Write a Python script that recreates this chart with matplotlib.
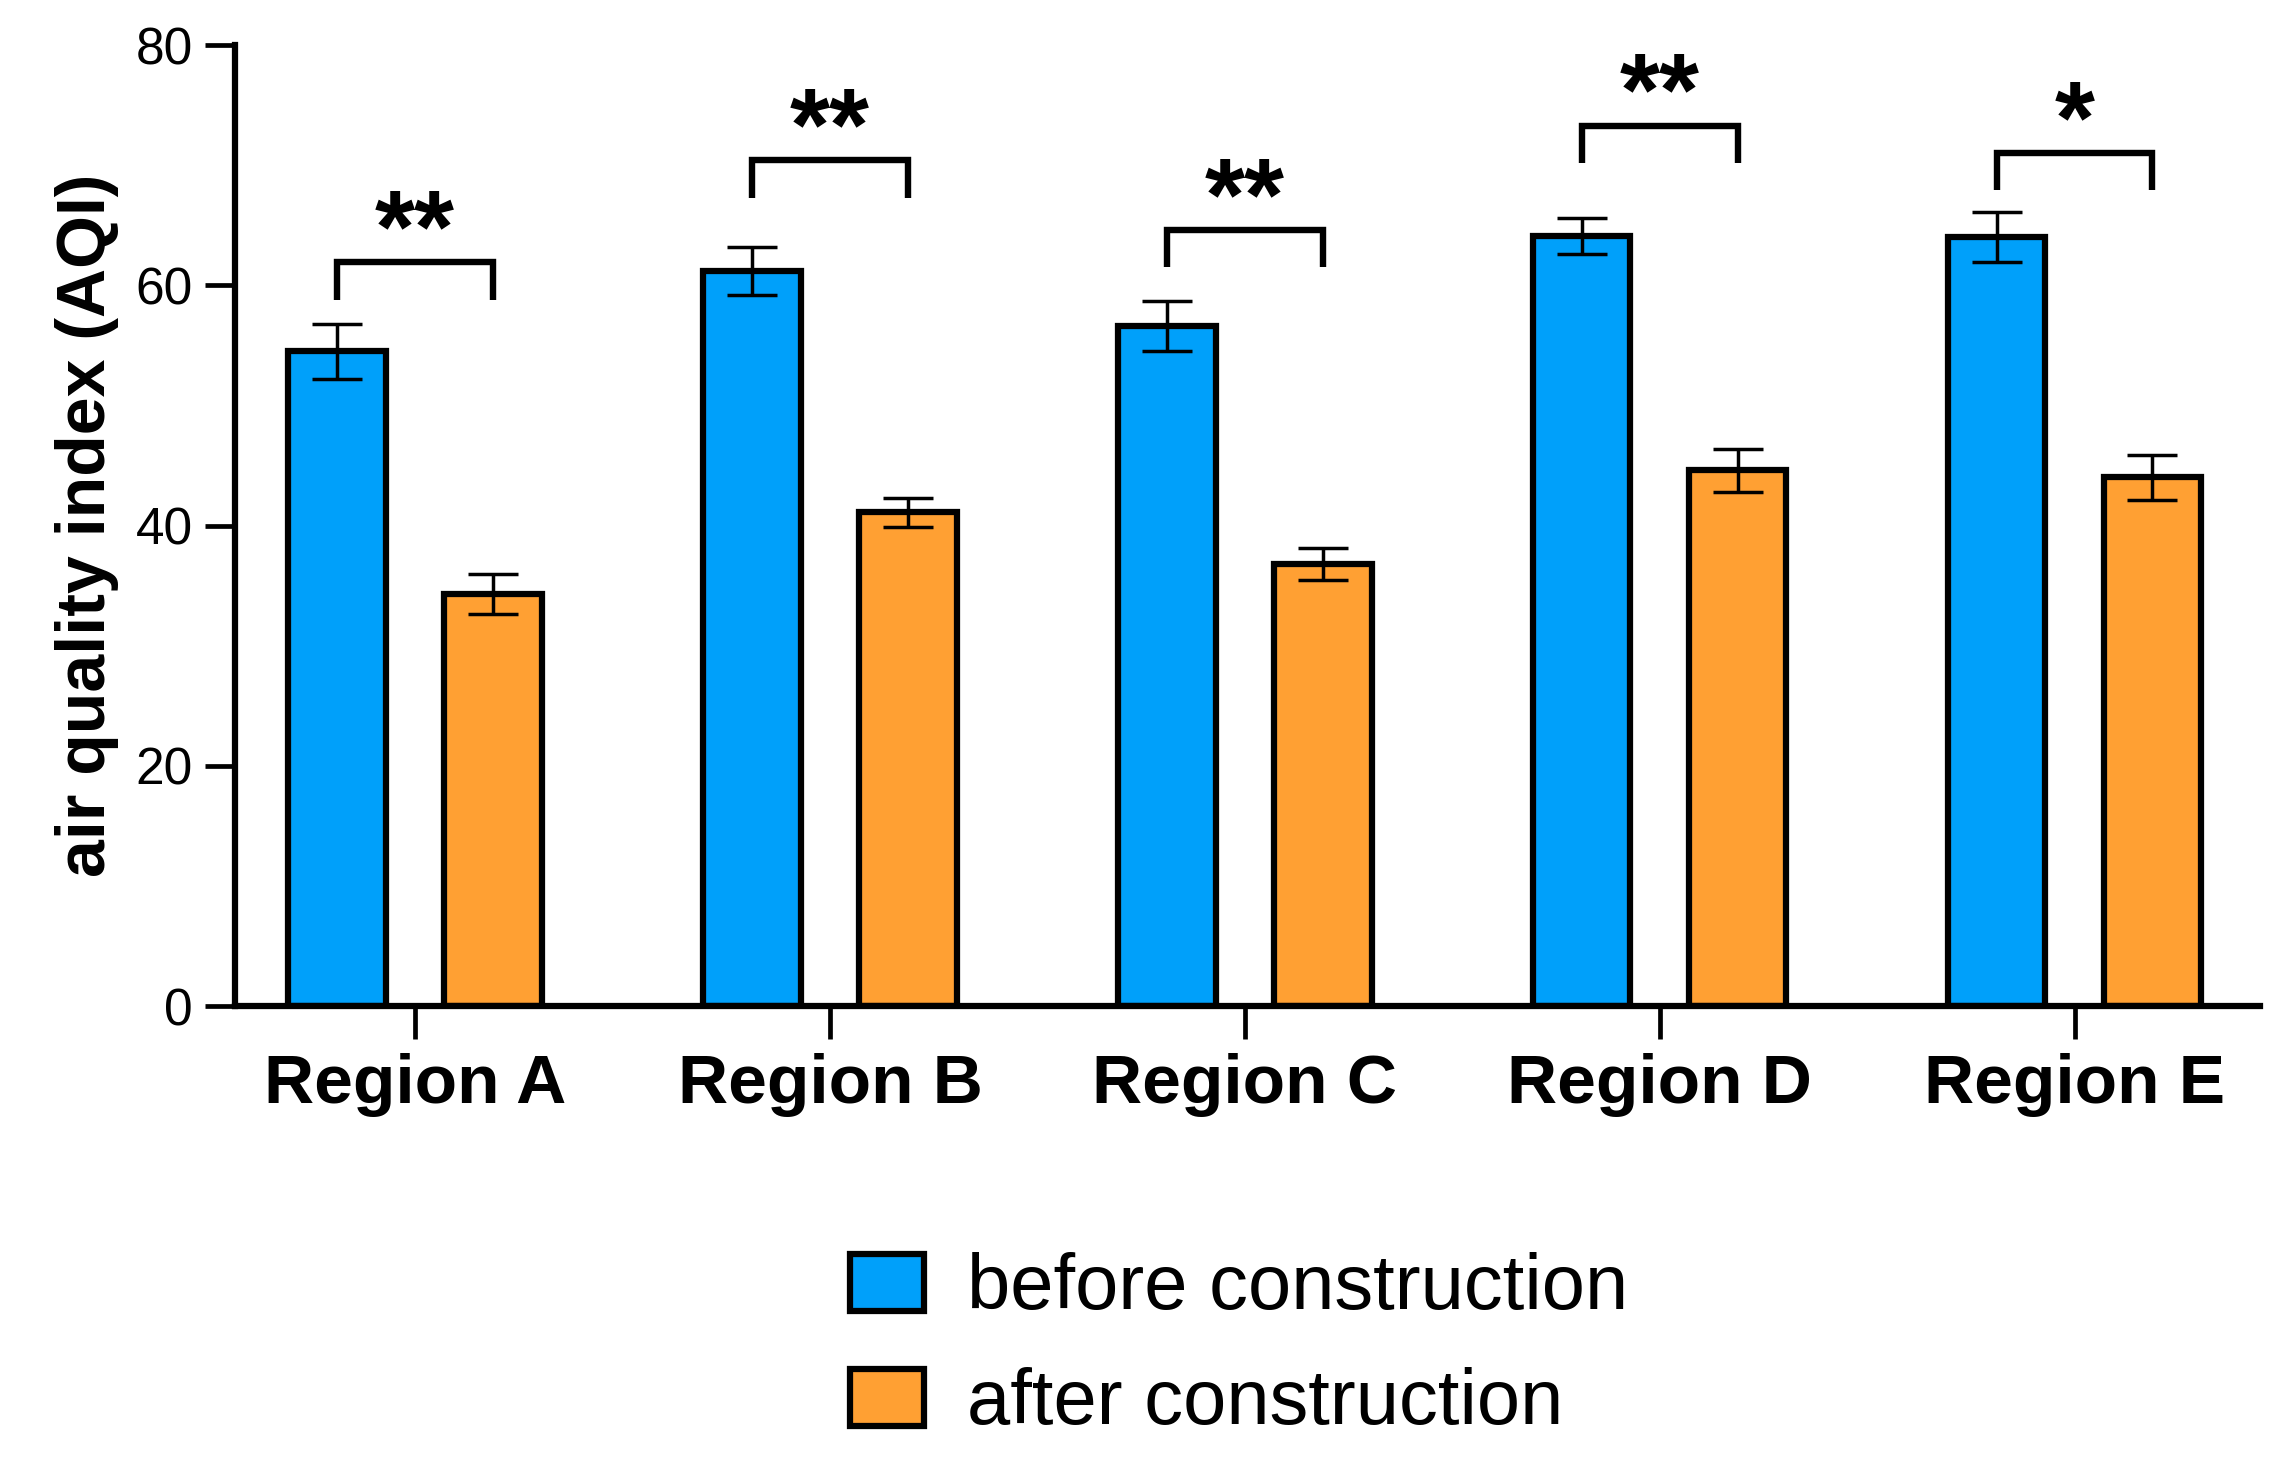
import numpy as np
import matplotlib.pyplot as plt
from matplotlib import font_manager

regions = ['Region A', 'Region B', 'Region C', 'Region D', 'Region E']
before = [54.5, 61.2, 56.6, 64.1, 64.0]
before_err = [2.3, 2.0, 2.1, 1.5, 2.1]
after = [34.3, 41.1, 36.8, 44.6, 44.0]
after_err = [1.7, 1.2, 1.3, 1.8, 1.9]
# significance brackets (height of the bar line) and their marks
bracket_y = [61.9, 70.4, 64.6, 73.3, 71.0]
stars = ['**', '**', '**', '**', '*']

blue = '#00A0FA'
orange = '#FFA033'

plt.rcParams['font.family'] = ['Liberation Sans', 'DejaVu Sans']
names = {f.name for f in font_manager.fontManager.ttflist}
if 'Liberation Sans Narrow' in names:
    xlab_font = dict(family='Liberation Sans Narrow', size=60, weight='bold')
else:
    xlab_font = dict(family='Liberation Sans', size=50, weight='bold')

fig = plt.figure(figsize=(22.86, 14.68), dpi=100)
ax = fig.add_axes([0.103, 0.3147, 0.8856, 0.6546])

x = np.arange(len(regions))
off = 0.188
w = 0.235

ax.bar(x - off, before, w, color=blue, edgecolor='black', linewidth=4.5,
       label='before construction', zorder=2)
ax.bar(x + off, after, w, color=orange, edgecolor='black', linewidth=4.5,
       label='after construction', zorder=2)
ax.errorbar(x - off, before, yerr=before_err, fmt='none', ecolor='black',
            elinewidth=2.5, capsize=18, capthick=2.5, zorder=3)
ax.errorbar(x + off, after, yerr=after_err, fmt='none', ecolor='black',
            elinewidth=2.5, capsize=18, capthick=2.5, zorder=3)

# brackets with stars
for i in range(len(regions)):
    by = bracket_y[i]
    ax.plot([x[i] - off, x[i] - off, x[i] + off, x[i] + off],
            [by - 3.1, by, by, by - 3.1], color='black', lw=4.6,
            solid_joinstyle='miter', solid_capstyle='butt', zorder=3)
    ax.text(x[i], by + 0.0, stars[i], ha='center', va='baseline',
            fontsize=74, fontweight='bold')

ax.set_xlim(-0.433, 4.447)
ax.set_ylim(0, 80)
ax.set_yticks([0, 20, 40, 60, 80])
ax.set_xticks(x)
ax.set_xticklabels(regions, fontdict=xlab_font)
ax.tick_params(axis='y', labelsize=37, length=21.5, width=3.4, pad=9)
ax.tick_params(axis='x', length=24, width=3.4, pad=10)
ax.set_ylabel('air quality index (AQI)', fontsize=49, fontweight='bold', labelpad=12)

for s in ['top', 'right']:
    ax.spines[s].set_visible(False)
for s in ['left', 'bottom']:
    ax.spines[s].set_linewidth(4.5)

fig.legend(loc='upper left', bbox_to_anchor=(0.372, 0.147), frameon=False,
           fontsize=56, handlelength=0.95, handleheight=0.75, handletextpad=0.55,
           labelspacing=0.54, borderpad=0, borderaxespad=0)

fig.savefig('out.png', dpi=100)
